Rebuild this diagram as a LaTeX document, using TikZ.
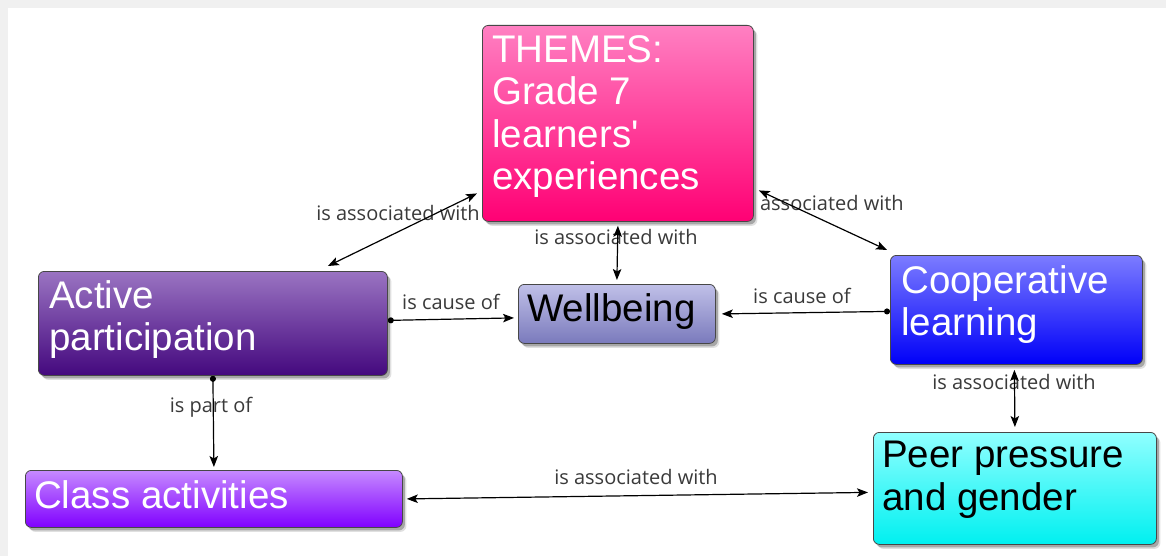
\documentclass[tikz,border=0pt]{standalone}
\usepackage{fontspec}
\setmainfont{Liberation Sans}
\newfontfamily\lblfont{Open Sans}
\usetikzlibrary{arrows.meta,shadows}
\pgfdeclarelayer{canvas}
\pgfdeclarelayer{labels}
\pgfdeclarelayer{edges}
\pgfsetlayers{canvas,labels,edges,main}
\definecolor{themesTop}{HTML}{FF80C2}
\definecolor{themesBot}{HTML}{FF0074}
\definecolor{activeTop}{HTML}{9A74C2}
\definecolor{activeBot}{HTML}{44087E}
\definecolor{wellTop}{HTML}{C0C0E8}
\definecolor{wellBot}{HTML}{7A7ABC}
\definecolor{coopTop}{HTML}{7C7CFF}
\definecolor{coopBot}{HTML}{0000F8}
\definecolor{classTop}{HTML}{C68AFF}
\definecolor{classBot}{HTML}{8000FF}
\definecolor{peerTop}{HTML}{90FFFF}
\definecolor{peerBot}{HTML}{00F0F0}
\definecolor{lblgray}{HTML}{3A3A3A}
\definecolor{edgegray}{HTML}{F0F0F0}
\begin{document}
\begin{tikzpicture}[x=1pt,y=-1pt,
  box/.style={draw=black!72, line width=0.8pt, rounded corners=6pt,
    drop shadow={shadow xshift=4pt, shadow yshift=-4.5pt, fill=black, opacity=0.12},
    drop shadow={shadow xshift=2.5pt, shadow yshift=-3pt, fill=black, opacity=0.25},
    anchor=north west, inner sep=0pt},
  btext/.style={anchor=north west, inner sep=0pt, align=left,
    font=\fontsize{38.5}{42.5}\selectfont, text=white},
  dtext/.style={btext, text=black},
  lbl/.style={font=\lblfont\fontsize{20}{24}\selectfont, text=lblgray, inner sep=0pt},
  conn/.style={line width=1.2pt, black},
  tip/.tip={Stealth[length=11pt,width=8.5pt,inset=2.5pt]},
  both/.style={conn, tip-tip},
  cause/.style={conn, {Circle[length=6pt]}-tip},
]
\begin{pgfonlayer}{canvas}
  \fill[edgegray] (0,0) rectangle (1166,556);
  \fill[white] (8,8) rectangle (1166,556);
\end{pgfonlayer}

% boxes
\node[box, minimum width=271pt, minimum height=196pt, top color=themesTop, bottom color=themesBot] (themes) at (482,25) {};
\node[box, minimum width=349pt, minimum height=104pt, top color=activeTop, bottom color=activeBot] (active) at (38,271) {};
\node[box, minimum width=197pt, minimum height=59pt, top color=wellTop, bottom color=wellBot] (well) at (518,284) {};
\node[box, minimum width=252pt, minimum height=109pt, top color=coopTop, bottom color=coopBot] (coop) at (890,255) {};
\node[box, minimum width=377pt, minimum height=57pt, top color=classTop, bottom color=classBot] (class) at (25,470) {};
\node[box, minimum width=283pt, minimum height=112pt, top color=peerTop, bottom color=peerBot] (peer) at (873,432) {};

% texts
\node[btext] (themes-t) at (492,35) {THEMES:\\Grade 7\\learners\textquotesingle\\experiences};
\node[btext] (active-t) at (49,280) {Active\\participation};
\node[dtext] (well-t) at (527,293) {Wellbeing};
\node[btext] (coop-t) at (901,265) {Cooperative\\learning};
\node[btext] (class-t) at (34,480) {Class activities};
\node[dtext] (peer-t) at (882,441) {Peer pressure\\and gender};

% labels
\begin{pgfonlayer}{labels}
  \node[lbl] (l1) at (398,213) {is associated with};
  \node[lbl] (l2) at (822,203) {is associated with};
  \node[lbl] (l3) at (616,237) {is associated with};
  \node[lbl] (l4) at (451,302) {is cause of};
  \node[lbl] (l5) at (802,296) {is cause of};
  \node[lbl] (l6) at (211,407) {is part of};
  \node[lbl] (l7) at (1014,382) {is associated with};
  \node[lbl] (l8) at (636,477) {is associated with};
\end{pgfonlayer}

% connectors
\begin{pgfonlayer}{edges}
  \draw[both] ([xshift=115pt,yshift=5pt]active.north) -- ([xshift=-5pt,yshift=-70pt]themes.west);
  \draw[both] ([xshift=5pt,yshift=-67pt]themes.east) -- ([xshift=-3pt,yshift=5pt]coop.north west);
  \draw[both] ([yshift=-4pt]themes.south) -- ([yshift=4pt]well.north);
  \draw[cause] ([yshift=3pt]active.east) -- ([xshift=-4pt,yshift=-4pt]well.west);
  \draw[cause] ([yshift=-1.5pt]coop.west) -- ([xshift=6pt]well.east);
  \draw[cause] (active.south) -- ([yshift=3pt]class.north);
  \draw[both] ([xshift=-2pt,yshift=-5pt]coop.south) -- ([yshift=5pt]peer.north);
  \draw[both] ([xshift=4pt]class.east) -- ([xshift=-5pt,yshift=-4pt]peer.west);
\end{pgfonlayer}
\end{tikzpicture}
\end{document}
